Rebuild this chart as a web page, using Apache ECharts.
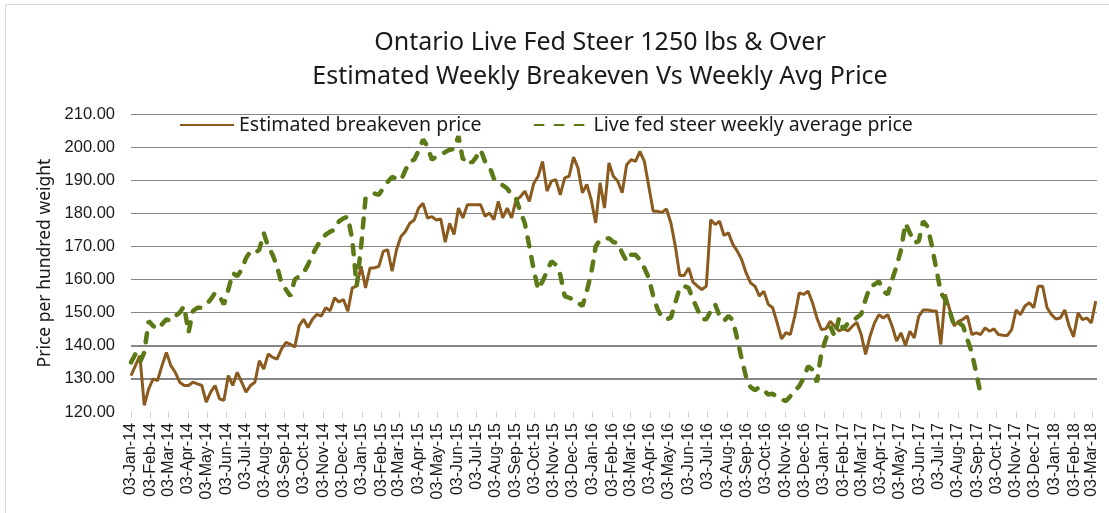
<!DOCTYPE html>
<html>
<head>
<meta charset="utf-8">
<script src="https://cdn.jsdelivr.net/npm/echarts@6/dist/echarts.min.js"></script>
<style>
  html, body { margin: 0; padding: 0; background: #fff; }
  #frame { position: absolute; left: 5px; top: 4px; width: 1120px; height: 530px; border: 1.5px solid #d9d9d9; box-sizing: border-box; }
  #gridlines { position: absolute; left: 0; top: 0; width: 1109px; height: 513px; }
  .gl { position: absolute; height: 1px; background: #868686; }
  #chart { position: absolute; left: 0; top: 0; width: 1109px; height: 513px; }
</style>
</head>
<body>
<div id="frame"></div>
<div id="gridlines"></div>
<div id="chart"></div>
<script>
// weekly series, first week = Fri 03-Jan-2014
var startDate = Date.UTC(2014, 0, 3);
var DAY = 86400000;
var lastDay = 1528;
var monthNames = ['Jan', 'Feb', 'Mar', 'Apr', 'May', 'Jun', 'Jul', 'Aug', 'Sep', 'Oct', 'Nov', 'Dec'];
var gridValues = [130, 140, 150, 160, 170, 180, 190, 200, 210];

var breakeven = [
  131, 134, 137, 122, 127, 130, 129.5, 134, 138, 134,
  132, 129, 128, 128, 129, 128.5, 128, 123, 126, 128,
  124, 123.5, 131, 128, 132, 129, 126, 128, 129, 135.5,
  133, 137.5, 136.5, 136, 139, 141, 140.5, 139.6, 146, 148,
  145.5, 148, 149.5, 149, 151.5, 150.6, 154.5, 153.2, 154, 150.4,
  157.5, 158, 164, 157.5, 163.5, 163.5, 164, 168.5, 169, 162.5,
  169, 173, 174.5, 177, 178, 181.6, 183, 178.6, 179, 178,
  178.3, 171.3, 177, 173.6, 181.6, 178.6, 182.6, 182.6, 182.6, 182.6,
  179.1, 180.1, 178.1, 183.6, 178.6, 181.6, 178.6, 184, 185, 186.7,
  183.6, 189, 191.2, 195.7, 186.7, 189.7, 190.2, 185.6, 190.7, 191.2,
  197, 193.7, 186.2, 188.7, 184.1, 177.1, 189.2, 181.6, 195.2, 191.2,
  189.7, 186.2, 194.7, 196.2, 195.7, 198.7, 195.7, 188.2, 180.6, 180.6,
  180.3, 181.3, 177.1, 170.1, 161.2, 161.2, 163.5, 159.2, 158, 157,
  158, 178.1, 176.6, 177.6, 173.3, 174.1, 170.6, 168.6, 166, 162,
  159, 158, 155, 156.5, 152.5, 151.5, 147, 142.1, 144, 143.4,
  149, 156, 155.5, 156.5, 153, 148.4, 144.9, 145.1, 147.4, 145.9,
  144.5, 145.2, 144.5, 145.9, 147.1, 143.4, 137.4, 142.9, 146.9, 149.4,
  148.4, 149.4, 145.9, 141.4, 143.9, 140.1, 144.4, 142.4, 148.9, 150.8,
  150.8, 150.6, 150.5, 140.4, 155.5, 151, 146, 147.4, 148, 149,
  143.4, 143.9, 143.4, 145.4, 144.4, 145.1, 143.4, 143.2, 143.1, 144.9,
  150.8, 149.4, 152, 153, 151.5, 158, 158, 151.5, 149.4, 148.1,
  148.4, 150.8, 145.9, 142.7, 149.9, 147.9, 148.4, 146.9, 153.5
];

var avgPrice = [
  135, 137.5, 135, 138, 147.5, 146, 145, 146.5, 148, 147.5,
  149, 150, 152, 144, 150.5, 151.5, 151.5, 152.5, 154, 156,
  155, 152.5, 157, 162, 161, 163, 166.5, 168.5, 168, 169,
  174, 170, 167.5, 164, 159, 157, 155, 160, 161, 162,
  164.5, 167.5, 170, 172, 173.6, 174.5, 175, 177.6, 178.5, 179,
  172, 158, 170, 184.6, 185.5, 186, 185.6, 187.6, 189.5, 191,
  190.5, 190, 193, 195.7, 196.2, 199, 202.3, 200.2, 196.2, 197.2,
  197.7, 198.5, 199.2, 199.4, 203.3, 196.2, 197, 195.2, 197, 199.2,
  195.7, 194.2, 190.5, 189, 188.5, 187.5, 185.6, 184.5, 180.5, 177,
  170.1, 163, 157, 159.5, 162.5, 165.5, 164.5, 161.5, 155, 154.5,
  154, 153, 152, 156.5, 162, 170, 172, 172.3, 172.5, 171.3,
  171, 168, 165.5, 167.5, 167.5, 166, 163.5, 160.5, 155, 151,
  148.5, 148, 148.5, 153, 157.5, 158, 157.5, 154, 151, 148,
  148, 150.5, 152.5, 149, 147.5, 149, 147.7, 142, 136, 130.5,
  127.5, 126.6, 127.5, 126.5, 125.3, 125.5, 124.5, 123.8, 123.3, 124.8,
  126.5, 127.8, 130.3, 133.8, 132.8, 129, 138, 142, 145.9, 142.9,
  148.4, 144.9, 146.9, 147.4, 148.5, 149.5, 154, 158, 158.5, 159.5,
  156.5, 155.5, 160, 164, 169, 177, 174.1, 171.1, 171.6, 177.6,
  176, 170, 163, 156, 154, 150.5, 146, 147, 146, 141.9,
  137.9, 131.8, 125.3
];

// month ticks on the 3rd, 03-Jan-14 .. 03-Mar-18
var tickDays = [];
var tickLabels = [];
for (var m = 0; m <= 50; m++) {
  tickDays.push(Math.round((Date.UTC(2014, m, 3) - startDate) / DAY));
  tickLabels.push('03-' + monthNames[m % 12] + '-' + (14 + Math.floor(m / 12)));
}

function toPoints(arr) {
  var out = [];
  for (var i = 0; i < arr.length; i++) {
    out.push([i * 7, arr[i]]);
  }
  return out;
}

var gridLeft = 131;
var gridRight = 12;
var gridTop = 114;
var gridBottom = 101;

var chart = echarts.init(document.getElementById('chart'));
var option = {
  animation: false,
  title: {
    text: 'Ontario Live Fed Steer 1250 lbs & Over\nEstimated Weekly Breakeven Vs Weekly Avg Price',
    left: 595,
    top: 21,
    textAlign: 'center',
    textStyle: {
      fontFamily: 'Noto Sans',
      fontSize: 25,
      fontWeight: 'normal',
      color: '#1a1a1a',
      lineHeight: 34
    }
  },
  legend: {
    left: 179,
    top: 115,
    padding: 0,
    itemWidth: 54,
    itemHeight: 18,
    itemGap: 52,
    itemStyle: { opacity: 0 },
    textStyle: {
      fontFamily: 'Noto Sans',
      fontSize: 19.5,
      color: '#1a1a1a'
    },
    data: ['Estimated breakeven price', 'Live fed steer weekly average price']
  },
  grid: {
    left: gridLeft,
    right: gridRight,
    top: gridTop,
    bottom: gridBottom
  },
  xAxis: {
    type: 'value',
    min: 0,
    max: lastDay,
    axisLine: { show: false, onZero: false },
    splitLine: { show: false },
    axisTick: {
      show: true,
      customValues: tickDays,
      length: 6,
      lineStyle: { color: '#d0d0d0' }
    },
    axisLabel: {
      customValues: tickDays,
      rotate: 90,
      margin: 11,
      fontFamily: 'Liberation Sans',
      fontSize: 16,
      color: '#1a1a1a',
      formatter: function (v) {
        var i = tickDays.indexOf(Math.round(v));
        return i >= 0 ? tickLabels[i] : '';
      }
    }
  },
  yAxis: {
    type: 'value',
    min: 120,
    max: 210,
    interval: 10,
    name: 'Price per hundred weight',
    nameLocation: 'middle',
    nameRotate: 90,
    nameGap: 77,
    nameTextStyle: {
      fontFamily: 'Noto Sans',
      fontSize: 17.5,
      color: '#1a1a1a'
    },
    axisLine: { show: false },
    axisTick: { show: false },
    axisLabel: {
      margin: 16,
      fontFamily: 'Liberation Sans',
      fontSize: 16.5,
      color: '#1a1a1a',
      formatter: function (v) { return v.toFixed(2); }
    },
    splitLine: {
      show: true,
      showMinLine: false,
      lineStyle: { color: '#868686', width: 1 }
    }
  },
  series: [{
    name: 'Estimated breakeven price',
    type: 'line',
    symbol: 'none',
    data: toPoints(breakeven),
    lineStyle: { color: '#8b5a1e', width: 3 },
    itemStyle: { color: '#8b5a1e' },
    z: 3
  }, {
    name: 'Live fed steer weekly average price',
    type: 'line',
    symbol: 'none',
    data: toPoints(avgPrice),
    lineStyle: { color: '#5b7a17', width: 4.5, type: [9, 11], cap: 'round' },
    itemStyle: { color: '#5b7a17' },
    z: 4
  }]
};
chart.setOption(option);

// extra gridlines behind the (transparent) canvas, placed with the y axis scale
var holder = document.getElementById('gridlines');
var plotH = 513 - gridTop - gridBottom;
gridValues.forEach(function (v) {
  var y = chart.convertToPixel({ yAxisIndex: 0 }, v);
  if (typeof y !== 'number' || isNaN(y)) {
    y = gridTop + (210 - v) / 90 * plotH;
  }
  var d = document.createElement('div');
  d.className = 'gl';
  d.style.left = gridLeft + 'px';
  d.style.width = (1109 - gridLeft - gridRight) + 'px';
  d.style.top = Math.floor(y) + 'px';
  holder.appendChild(d);
});
</script>
</body>
</html>
